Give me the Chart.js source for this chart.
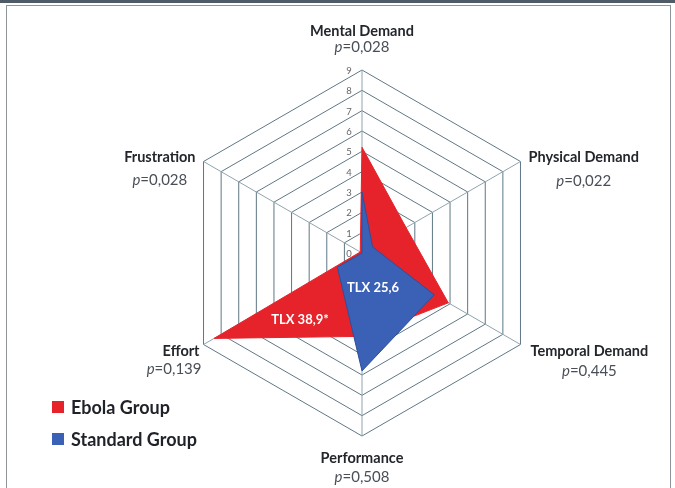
<!DOCTYPE html>
<html>
<head>
<meta charset="utf-8">
<script src="https://cdn.jsdelivr.net/npm/chart.js@4"></script>
<style>
  html, body { margin: 0; padding: 0; background: #fff; }
  #wrap { position: relative; width: 675px; height: 488px; overflow: hidden; }
  #topbar { position: absolute; left: 0; top: 0; width: 675px; height: 3px; background: #4f5c68; }
  #frame { position: absolute; left: 6px; top: 5px; width: 665px; height: 500px; border: 1px solid #8e959b; box-sizing: border-box; }
  canvas { position: absolute; left: 0; top: 0; }
  .leg { position: absolute; left: 52px; font-family: Lato, "Liberation Sans", sans-serif; font-weight: bold; font-size: 18px; color: #1f2228; display: flex; align-items: center; }
  .leg span.sw { display: inline-block; width: 12px; height: 12px; margin-right: 7px; }
</style>
</head>
<body>
<div id="wrap">
  <div id="topbar"></div>
  <div id="frame"></div>
  <canvas id="c" width="675" height="488"></canvas>
  <div id="legend"></div>
</div>
<script>
// ---- data ----
const categories = ['Mental Demand', 'Physical Demand', 'Temporal Demand', 'Performance', 'Effort', 'Frustration'];
const pValues = ['0,028', '0,022', '0,445', '0,508', '0,139', '0,028'];
const seriesNames = ['Ebola Group', 'Standard Group'];
const ebolaValues = [5.2, 2.5, 4.9, 4.1, 8.4, 0.1];
const standardValues = [3.0, 0.6, 4.1, 5.8, 1.4, 0.0];
const tickLabels = ['0', '1', '2', '3', '4', '5', '6', '7', '8', '9'];
const tlxLabels = ['TLX 38,9*', 'TLX 25,6'];

const RED = '#e6222a';
const BLUE = '#3a61b6';

// legend (HTML)
const legendEl = document.getElementById('legend');
[[seriesNames[0], RED, 396], [seriesNames[1], BLUE, 428]].forEach(([name, col, top]) => {
  const d = document.createElement('div');
  d.className = 'leg';
  d.style.top = top + 'px';
  d.innerHTML = '<span class="sw" style="background:' + col + '"></span><span>' + name + '</span>';
  legendEl.appendChild(d);
});

const labelPlugin = {
  id: 'customLabels',
  afterDatasetsDraw(chart) {
    const scale = chart.scales.r;
    const ctx = chart.ctx;
    ctx.save();
    // tick labels along the first axis
    ctx.font = '9.5px Lato, "Liberation Sans", sans-serif';
    ctx.fillStyle = '#666666';
    ctx.textAlign = 'center';
    ctx.textBaseline = 'middle';
    tickLabels.forEach((t) => {
      const p = scale.getPointPosition(0, scale.getDistanceFromCenterForValue(Number(t)));
      ctx.fillText(t, p.x - 13, p.y + 1);
    });

    // axis titles with p values
    const titleFont = 'bold 14.5px Lato, "Liberation Sans", sans-serif';
    const pFont = '15px Lato, "Liberation Sans", sans-serif';
    const place = [
      { mode: 'center', dx: 0, dyT: -39, dyP: -23 },
      { mode: 'left', dx: 8, dyT: -4, dyP: 20 },
      { mode: 'left', dx: 10, dyT: 7, dyP: 27 },
      { mode: 'center', dx: 0, dyT: 22, dyP: 41 },
      { mode: 'right', dx: -4, dyT: 7, dyP: 25 },
      { mode: 'right', dx: -8, dyT: -4, dyP: 19 }
    ];
    categories.forEach((cat, i) => {
      const v = scale.getPointPosition(i, scale.drawingArea);
      const pl = place[i];
      ctx.font = titleFont;
      const wT = ctx.measureText(cat).width;
      ctx.font = 'italic ' + pFont;
      const wp = ctx.measureText('p').width;
      ctx.font = pFont;
      const wRest = ctx.measureText('=' + pValues[i]).width;
      const wP = wp + wRest;
      const wB = Math.max(wT, wP);
      let cx;
      if (pl.mode === 'center') cx = v.x;
      else if (pl.mode === 'left') cx = v.x + pl.dx + wB / 2;
      else cx = v.x + pl.dx - wB / 2;
      ctx.textBaseline = 'middle';
      ctx.textAlign = 'left';
      ctx.fillStyle = '#23262b';
      ctx.font = titleFont;
      const tx = (i === 4) ? v.x + pl.dx - wT : cx - wT / 2;
      ctx.fillText(cat, tx, v.y + pl.dyT);
      const px = (i === 4) ? v.x + pl.dx - wP + 2 : cx - wP / 2;
      ctx.fillStyle = '#4a4f57';
      ctx.font = 'italic ' + pFont;
      ctx.fillText('p', px, v.y + pl.dyP);
      ctx.font = pFont;
      ctx.fillText('=' + pValues[i], px + wp, v.y + pl.dyP);
    });

    // TLX annotations
    ctx.font = 'bold 13px Lato, "Liberation Sans", sans-serif';
    ctx.fillStyle = '#ffffff';
    ctx.textAlign = 'center';
    ctx.textBaseline = 'middle';
    ctx.fillText(tlxLabels[0], scale.xCenter - 62, scale.yCenter + 67);
    ctx.fillText(tlxLabels[1], scale.xCenter + 11, scale.yCenter + 35);
    ctx.restore();
  }
};

new Chart(document.getElementById('c'), {
  type: 'radar',
  data: {
    labels: categories,
    datasets: [
      {
        label: seriesNames[0],
        data: ebolaValues,
        backgroundColor: RED,
        borderColor: RED,
        borderWidth: 1,
        pointRadius: 0,
        order: 2
      },
      {
        label: seriesNames[1],
        data: standardValues,
        backgroundColor: BLUE,
        borderColor: '#2e4f99',
        borderWidth: 1,
        pointRadius: 0,
        order: 1
      }
    ]
  },
  options: {
    responsive: false,
    animation: false,
    layout: { padding: { left: 179, right: 130, top: 70, bottom: 52 } },
    plugins: { legend: { display: false }, tooltip: { enabled: false } },
    scales: {
      r: {
        min: 0,
        max: 9,
        ticks: { display: false, stepSize: 1 },
        pointLabels: { display: false },
        grid: { color: '#5f7785', lineWidth: 1 },
        angleLines: { color: '#8fa3ae', lineWidth: 1 }
      }
    }
  },
  plugins: [labelPlugin]
});
</script>
</body>
</html>
